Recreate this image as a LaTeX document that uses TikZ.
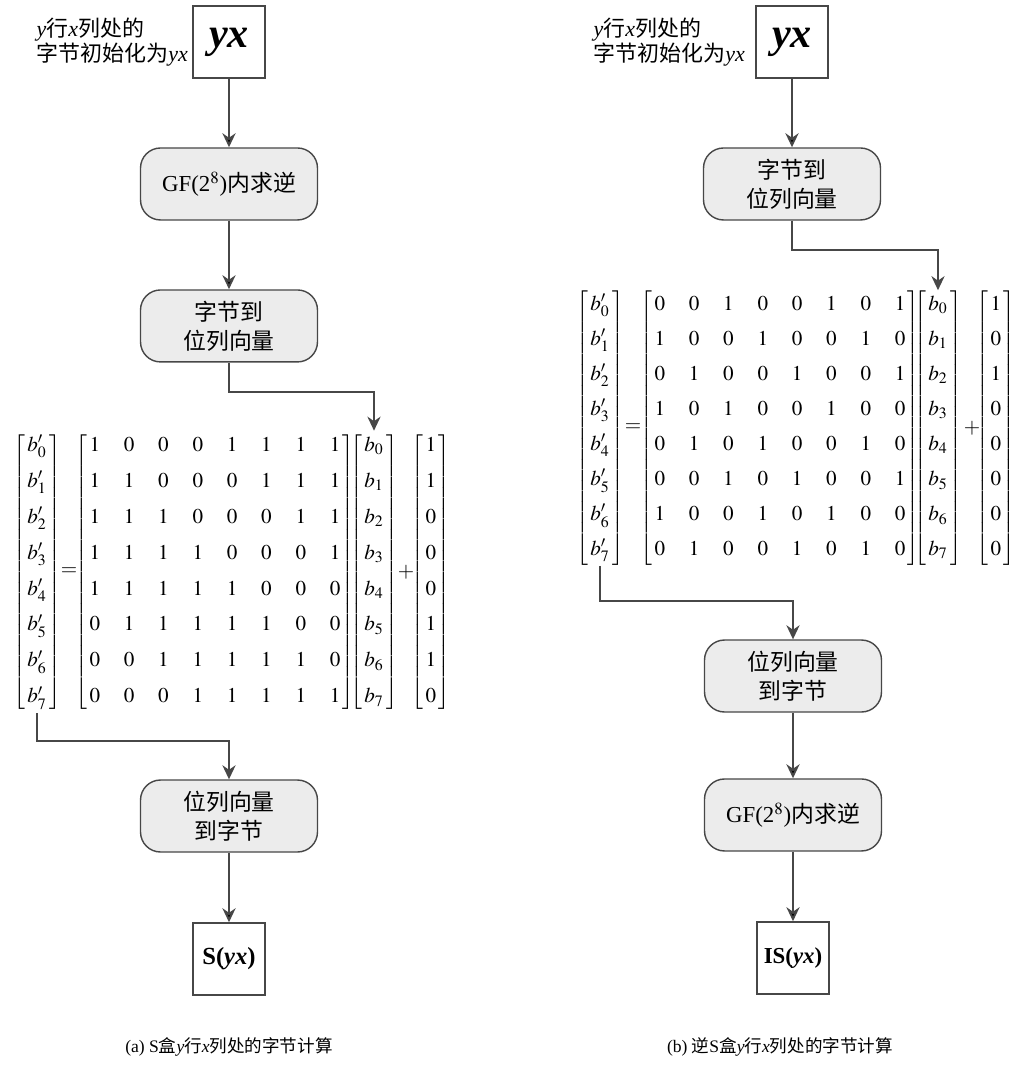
\documentclass[tikz,border=0pt]{standalone}
\usepackage{amsmath}
\usepackage{mathptmx}
\usepackage{fontspec}
\setmainfont{Liberation Serif}
\newfontfamily\cjkfont{Noto Sans CJK SC}
\newcommand\zh[1]{{\cjkfont #1}}
\usetikzlibrary{positioning,matrix,arrows.meta}
\definecolor{boxgray}{HTML}{ECECEC}
\definecolor{inkgray}{HTML}{474747}

\begin{document}
\begin{tikzpicture}
	[x=0.02cm, y=-0.02cm, >={Stealth[length=8pt,width=7.5pt]},
	op/.style={draw=inkgray, fill=boxgray, rounded corners=0.4cm, line width=0.8pt, minimum width=3.54cm, minimum height=1.44cm, align=center, font=\fontsize{13}{16.5}\selectfont},
	io/.style={draw=inkgray, line width=0.8pt, minimum width=1.44cm, minimum height=1.44cm, inner sep=0pt},
	flow/.style={->, draw=inkgray, line width=1.1pt},
	note/.style={align=left, inner sep=0pt, font=\fontsize{12.5}{13}\selectfont},
	mat/.style={matrix of math nodes, left delimiter={[}, right delimiter={]}, inner sep=0pt, column sep=0.476cm,
		nodes={inner sep=0pt, minimum width=0.2cm, text height=0.4cm, text depth=0.2cm, font=\fontsize{12}{14}\selectfont}},
	vec/.style={mat, nodes={minimum width=#1}},
	rowsa/.style={row sep=0.12cm},
	rowsb/.style={row sep=0.1cm},
	sign/.style={font=\fontsize{12}{14}\selectfont},
	legend/.style={font=\fontsize{10}{12}\selectfont}]
	\useasboundingbox (0,0) rectangle (1024,1066);

	% (a) S-box
	\node[io] (yxa) at (229,42) {\fontsize{24}{26}\selectfont\textbf{\textit{yx}}};
	\node[note, left=0.08cm of yxa] (notea) {\textit{y}\zh{行}\textit{x}\zh{列处的}\\\zh{字节初始化为}\textit{yx}};
	\node[op, below of=yxa, node distance=2.84cm] (gfa) {GF(2$^8$)\zh{内求逆}};
	\node[op, below of=gfa, node distance=2.84cm] (b2va) {\zh{字节到}\\\zh{位列向量}};
	\matrix (lva) [vec=0.38cm, rowsa] at (37,572) {
		b'_0\\ b'_1\\ b'_2\\ b'_3\\ b'_4\\ b'_5\\ b'_6\\ b'_7\\};
	\node[sign] (eqa) at (69,572) {$=$};
	\matrix (ma) [mat, rowsa] at (215,572) {
		1 & 0 & 0 & 0 & 1 & 1 & 1 & 1\\
		1 & 1 & 0 & 0 & 0 & 1 & 1 & 1\\
		1 & 1 & 1 & 0 & 0 & 0 & 1 & 1\\
		1 & 1 & 1 & 1 & 0 & 0 & 0 & 1\\
		1 & 1 & 1 & 1 & 1 & 0 & 0 & 0\\
		0 & 1 & 1 & 1 & 1 & 1 & 0 & 0\\
		0 & 0 & 1 & 1 & 1 & 1 & 1 & 0\\
		0 & 0 & 0 & 1 & 1 & 1 & 1 & 1\\};
	\matrix (bva) [vec=0.38cm, rowsa] at (374,572) {
		b_0\\ b_1\\ b_2\\ b_3\\ b_4\\ b_5\\ b_6\\ b_7\\};
	\node[sign] (plusa) at (406,572) {$+$};
	\matrix (cva) [vec=0.2cm, rowsa] at (431,572) {
		1\\ 1\\ 0\\ 0\\ 0\\ 1\\ 1\\ 0\\};
	\node[op] (v2ba) at (229,816) {\zh{位列向量}\\\zh{到字节}};
	\node[io, below of=v2ba, node distance=2.86cm] (sa) {\fontsize{14}{16}\selectfont\textbf{S(\textit{yx})}};
	\node[legend] (capa) at (229,1047) {(a) S\zh{盒}\textit{y}\zh{行}\textit{x}\zh{列处的字节计算}};

	\path[flow] (yxa) edge (gfa)
		(gfa) edge (b2va)
		(v2ba) edge (sa);
	\draw[flow] (b2va) -- ++(0,66) -| (bva.north);
	\draw[flow] (lva.south) -- ++(0,28) -| (v2ba.north);

	% (b) inverse S-box
	\node[io] (yxb) at (792,42) {\fontsize{24}{26}\selectfont\textbf{\textit{yx}}};
	\node[note, left=0.2cm of yxb] (noteb) {\textit{y}\zh{行}\textit{x}\zh{列处的}\\\zh{字节初始化为}\textit{yx}};
	\node[op, below of=yxb, node distance=2.84cm] (b2vb) {\zh{字节到}\\\zh{位列向量}};
	\matrix (lvb) [vec=0.38cm, rowsb] at (600,428) {
		b'_0\\ b'_1\\ b'_2\\ b'_3\\ b'_4\\ b'_5\\ b'_6\\ b'_7\\};
	\node[sign] (eqb) at (633,428) {$=$};
	\matrix (mb) [mat, rowsb] at (780,428) {
		0 & 0 & 1 & 0 & 0 & 1 & 0 & 1\\
		1 & 0 & 0 & 1 & 0 & 0 & 1 & 0\\
		0 & 1 & 0 & 0 & 1 & 0 & 0 & 1\\
		1 & 0 & 1 & 0 & 0 & 1 & 0 & 0\\
		0 & 1 & 0 & 1 & 0 & 0 & 1 & 0\\
		0 & 0 & 1 & 0 & 1 & 0 & 0 & 1\\
		1 & 0 & 0 & 1 & 0 & 1 & 0 & 0\\
		0 & 1 & 0 & 0 & 1 & 0 & 1 & 0\\};
	\matrix (bvb) [vec=0.38cm, rowsb] at (938,428) {
		b_0\\ b_1\\ b_2\\ b_3\\ b_4\\ b_5\\ b_6\\ b_7\\};
	\node[sign] (plusb) at (972,428) {$+$};
	\matrix (cvb) [vec=0.2cm, rowsb] at (996,428) {
		1\\ 0\\ 1\\ 0\\ 0\\ 0\\ 0\\ 0\\};
	\node[op] (v2bb) at (793,676) {\zh{位列向量}\\\zh{到字节}};
	\node[op, below of=v2bb, node distance=2.78cm] (gfb) {GF(2$^8$)\zh{内求逆}};
	\node[io, below of=gfb, node distance=2.86cm] (isb) {\fontsize{13}{15}\selectfont\textbf{IS(\textit{yx})}};
	\node[legend] (capb) at (780,1047) {(b) \zh{逆}S\zh{盒}\textit{y}\zh{行}\textit{x}\zh{列处的字节计算}};

	\path[flow] (yxb) edge (b2vb)
		(v2bb) edge (gfb)
		(gfb) edge (isb);
	\draw[flow] (b2vb) -- ++(0,66) -| (bvb.north);
	\draw[flow] (lvb.south) -- ++(0,35) -| (v2bb.north);
\end{tikzpicture}
\end{document}
